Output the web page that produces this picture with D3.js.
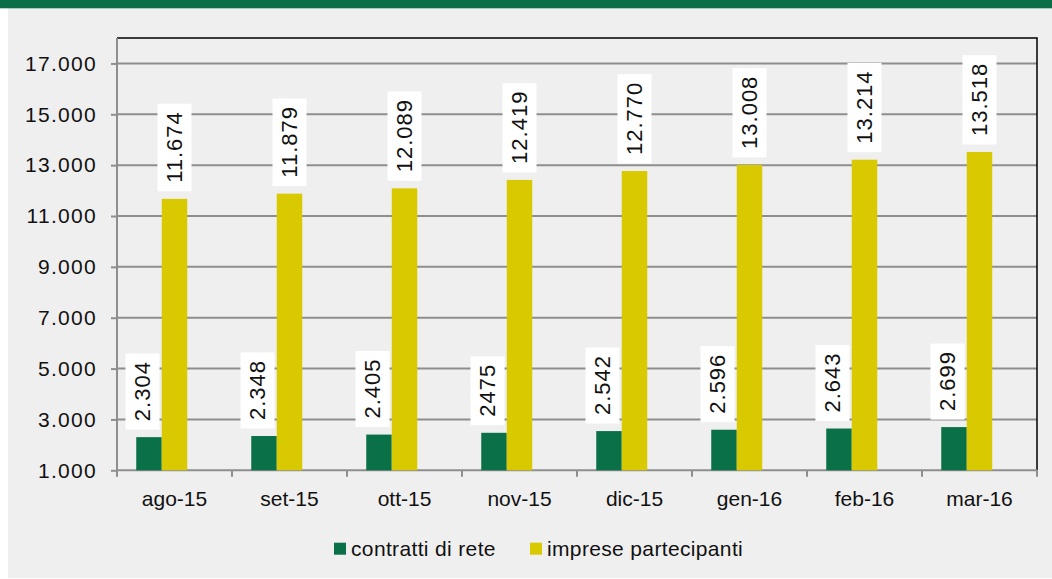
<!DOCTYPE html>
<html>
<head>
<meta charset="utf-8">
<script src="https://cdn.jsdelivr.net/npm/d3@7"></script>
<style>
  html, body { margin: 0; padding: 0; background: #ffffff; }
  svg { display: block; }
  text { font-family: "Liberation Sans", Arial, sans-serif; fill: #111; }
</style>
</head>
<body>
<div id="chart"></div>
<script>
// ---- data ----
const categories = ["ago-15", "set-15", "ott-15", "nov-15", "dic-15", "gen-16", "feb-16", "mar-16"];
const contrattiValues = [2304, 2348, 2405, 2475, 2542, 2596, 2643, 2699];
const impreseValues = [11674, 11879, 12089, 12419, 12770, 13008, 13214, 13518];
const contrattiLabels = ["2.304", "2.348", "2.405", "2475", "2.542", "2.596", "2.643", "2.699"];
const impreseLabels = ["11.674", "11.879", "12.089", "12.419", "12.770", "13.008", "13.214", "13.518"];
const seriesNames = ["contratti di rete", "imprese partecipanti"];
const yTickValues = [1000, 3000, 5000, 7000, 9000, 11000, 13000, 15000, 17000];
const yTickLabels = ["1.000", "3.000", "5.000", "7.000", "9.000", "11.000", "13.000", "15.000", "17.000"];

const W = 1052, H = 579;
const colors = { green: "#0a7047", yellow: "#d9c900" };

const svg = d3.select("#chart").append("svg").attr("width", W).attr("height", H);

// background panel and top band
svg.append("rect").attr("x", 8).attr("y", 8).attr("width", W - 8).attr("height", H - 9).attr("fill", "#efefef");
svg.append("rect").attr("x", 0).attr("y", 0).attr("width", W).attr("height", 8.3).attr("fill", "#0b6f46");

const plot = { left: 117, right: 1037, top: 38, bottom: 470.3 };

const x0 = d3.scaleBand().domain(categories).range([plot.left, plot.right]).paddingInner(0).paddingOuter(0);
// three slots per category (third slot empty, as in the original chart)
const x1 = d3.scaleBand().domain(["c", "i", "empty"]).range([0, x0.bandwidth()]).paddingInner(0).paddingOuter(0.755);
const y = d3.scaleLinear().domain([1000, 18000]).range([plot.bottom, plot.top]);

const gridColor = "#8e8e8e";

// gridlines
svg.append("g").selectAll("line").data(yTickValues.slice(1)).join("line")
  .attr("x1", plot.left).attr("x2", plot.right)
  .attr("y1", d => y(d)).attr("y2", d => y(d))
  .attr("stroke", gridColor).attr("stroke-width", 2);

// frame top & right (black)
svg.append("path")
  .attr("d", `M${plot.left},${plot.top}H${plot.right}V${plot.bottom}`)
  .attr("fill", "none").attr("stroke", "#000").attr("stroke-width", 1.5);

// y axis
const yAxis = d3.axisLeft(y).tickValues(yTickValues)
  .tickFormat((d, i) => yTickLabels[i]).tickSize(6).tickPadding(14);
const gy = svg.append("g").attr("transform", `translate(${plot.left},0)`).call(yAxis);
gy.select(".domain").remove();
gy.selectAll(".tick line").attr("stroke", gridColor).attr("stroke-width", 2);
gy.selectAll(".tick text")
  .attr("font-size", 21).attr("fill", "#111")
  .style("font-family", "'Liberation Sans', Arial, sans-serif")
  .style("letter-spacing", "1.3px");
svg.append("line").attr("x1", plot.left).attr("x2", plot.left)
  .attr("y1", plot.top).attr("y2", plot.bottom + 6)
  .attr("stroke", gridColor).attr("stroke-width", 2);

// x axis
svg.append("line").attr("x1", plot.left).attr("x2", plot.right)
  .attr("y1", plot.bottom).attr("y2", plot.bottom)
  .attr("stroke", gridColor).attr("stroke-width", 2);
const boundaries = categories.map(c => x0(c)).concat([plot.right]);
svg.append("g").selectAll("line").data(boundaries).join("line")
  .attr("x1", d => d).attr("x2", d => d)
  .attr("y1", plot.bottom).attr("y2", plot.bottom + 6.5)
  .attr("stroke", gridColor).attr("stroke-width", 2);
svg.append("g").selectAll("text").data(categories).join("text")
  .attr("x", d => x0(d) + x0.bandwidth() / 2)
  .attr("y", 506)
  .attr("text-anchor", "middle")
  .attr("font-size", 21)
  .text(d => d);

// bars
const rows = categories.map((c, i) => ({
  cat: c, c: contrattiValues[i], im: impreseValues[i],
  cl: contrattiLabels[i], il: impreseLabels[i]
}));

const bars = svg.append("g");
bars.selectAll("rect.c").data(rows).join("rect").attr("class", "c")
  .attr("x", d => x0(d.cat) + x1("c"))
  .attr("width", x1.bandwidth())
  .attr("y", d => y(d.c))
  .attr("height", d => y(1000) - y(d.c))
  .attr("fill", colors.green);
bars.selectAll("rect.i").data(rows).join("rect").attr("class", "i")
  .attr("x", d => x0(d.cat) + x1("i"))
  .attr("width", x1.bandwidth())
  .attr("y", d => y(d.im))
  .attr("height", d => y(1000) - y(d.im))
  .attr("fill", colors.yellow);

// data labels (rotated, white boxes)
function addLabel(cx, topY, txt) {
  const g = svg.append("g");
  const rg = g.append("g");
  const rect = rg.append("rect").attr("fill", "#ffffff");
  const t = rg.append("text")
    .attr("text-anchor", "middle")
    .attr("dy", "0.36em")
    .attr("font-size", 22)
    .style("letter-spacing", "1px")
    .text(txt);
  const len = t.node().getComputedTextLength();
  const boxLen = len + 16;
  const thick = 34;
  rect.attr("x", -boxLen / 2).attr("y", -thick / 2).attr("width", boxLen).attr("height", thick);
  t.attr("x", 0.5);
  const cy = topY - 7.5 - boxLen / 2;
  g.attr("transform", `translate(${cx},${cy}) rotate(-90)`);
}

rows.forEach(d => {
  addLabel(x0(d.cat) + x1("c") + x1.bandwidth() / 2 - 6.5, y(d.c), d.cl);
  addLabel(x0(d.cat) + x1("i") + x1.bandwidth() / 2, y(d.im), d.il);
});

// legend
const legendItems = [
  { name: seriesNames[0], color: colors.green, x: 334 },
  { name: seriesNames[1], color: colors.yellow, x: 530 }
];
const lg = svg.append("g");
legendItems.forEach(it => {
  lg.append("rect").attr("x", it.x).attr("y", 542.7).attr("width", 12).attr("height", 12).attr("fill", it.color);
  lg.append("text").attr("x", it.x + 17).attr("y", 556)
    .attr("font-size", 21).style("letter-spacing", "0.35px").text(it.name);
});
</script>
</body>
</html>
